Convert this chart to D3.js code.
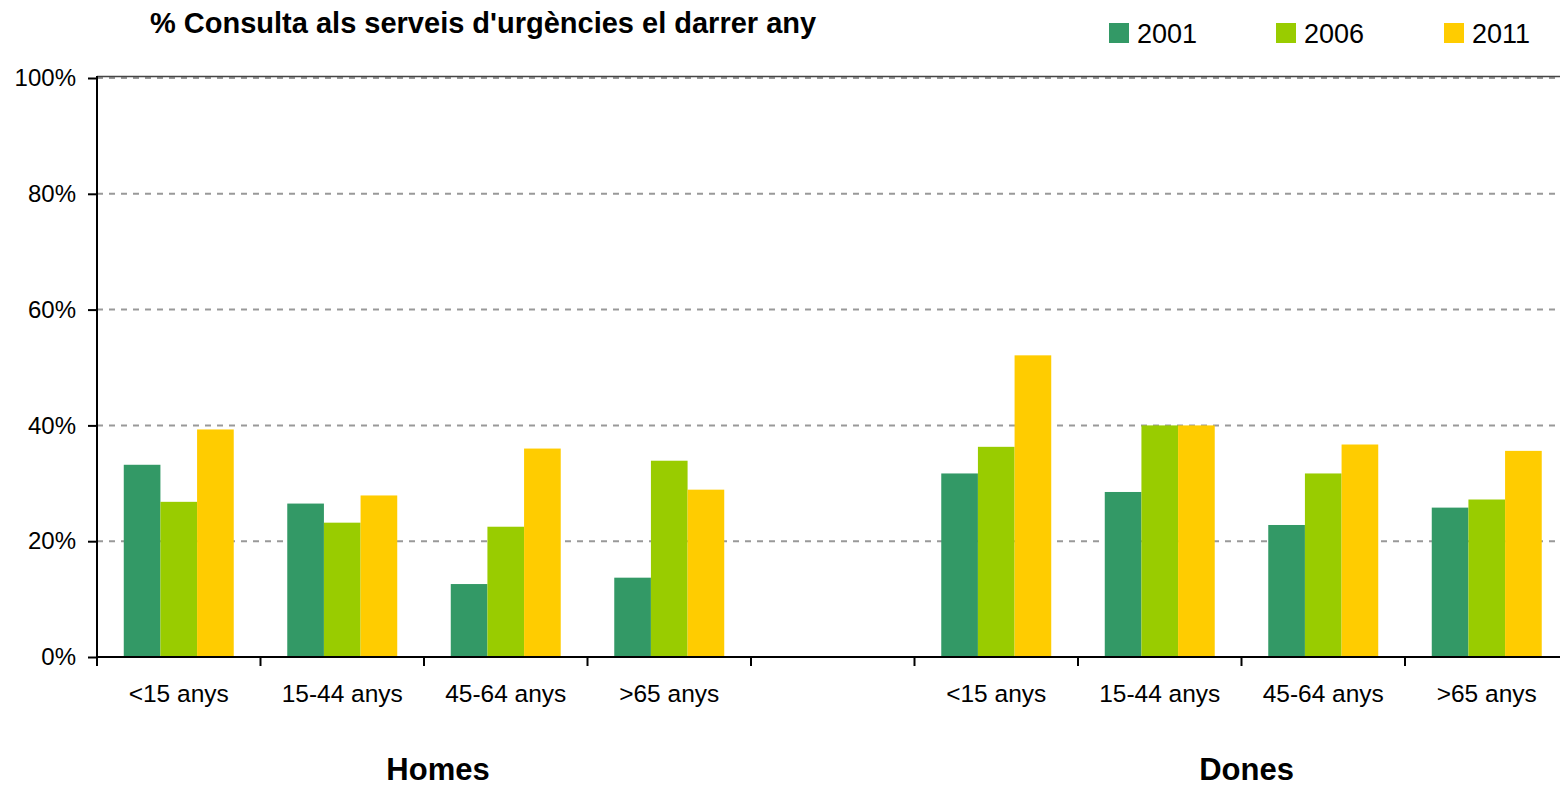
<!DOCTYPE html>
<html>
<head>
<meta charset="utf-8">
<script src="https://cdn.jsdelivr.net/npm/d3@7"></script>
<style>
  html, body { margin: 0; padding: 0; background: #fff; }
  svg { display: block; font-family: "Liberation Sans", Arial, sans-serif; }
</style>
</head>
<body>
<svg id="chart" width="1560" height="786"></svg>
<script>
// ---- data ----
const title = "% Consulta als serveis d'urgències el darrer any";
const categories = ["<15 anys", "15-44 anys", "45-64 anys", ">65 anys", "",
                    "<15 anys", "15-44 anys", "45-64 anys", ">65 anys"];
const groups = ["Homes", "Dones"];
const years = ["2001", "2006", "2011"];
const values2001 = [33.2, 26.5, 12.6, 13.7, null, 31.7, 28.5, 22.8, 25.8];
const values2006 = [26.8, 23.2, 22.5, 33.9, null, 36.3, 40.0, 31.7, 27.2];
const values2011 = [39.3, 27.9, 36.0, 28.9, null, 52.1, 40.0, 36.7, 35.6];
const yTicks = [0, 20, 40, 60, 80, 100];
const colors = ["#339966", "#99CC00", "#FFCC00"];

const series = [values2001, values2006, values2011];

const svg = d3.select("#chart");
const plotLeft = 97, plotTop = 78, plotBottom = 657, plotRight = 1560;
const slot = 163.5;
const ids = categories.map((c, i) => i);

const x0 = d3.scaleBand().domain(ids).range([plotLeft, plotLeft + slot * categories.length]).padding(0);
const x1 = d3.scaleBand().domain(years).range([0, x0.bandwidth()]).paddingInner(0).paddingOuter(0.73);
const y = d3.scaleLinear().domain([0, 100]).range([plotBottom, plotTop]);

// gridlines
svg.append("g").selectAll("line").data(yTicks.filter(d => d > 0)).join("line")
  .attr("x1", plotLeft).attr("x2", plotRight)
  .attr("y1", d => y(d)).attr("y2", d => y(d))
  .attr("stroke", "#999").attr("stroke-width", 2).attr("stroke-dasharray", "6,6");
// top border line
svg.append("line").attr("x1", plotLeft).attr("x2", plotRight).attr("y1", y(100) - 1.5).attr("y2", y(100) - 1.5)
  .attr("stroke", "#444").attr("stroke-width", 1.5);

// bars
series.forEach((vals, si) => {
  svg.append("g").selectAll("rect").data(vals.map((v, i) => ({v, i})).filter(d => d.v != null)).join("rect")
    .attr("x", d => x0(d.i) + x1(years[si]))
    .attr("width", x1.bandwidth())
    .attr("y", d => y(d.v))
    .attr("height", d => y(0) - y(d.v))
    .attr("fill", colors[si]);
});

// y axis
const yAxis = d3.axisLeft(y).tickValues(yTicks).tickSize(9).tickPadding(12).tickFormat(d => d + "%");
const gy = svg.append("g").attr("transform", `translate(${plotLeft},0)`).call(yAxis);
gy.select(".domain").remove();
gy.selectAll(".tick line").attr("stroke", "#000").attr("stroke-width", 2);
gy.selectAll(".tick text").attr("font-size", 24).attr("fill", "#000")
  .attr("font-family", "'Liberation Sans', Arial, sans-serif");
svg.append("line").attr("x1", plotLeft).attr("x2", plotLeft).attr("y1", plotTop - 2).attr("y2", plotBottom + 9)
  .attr("stroke", "#000").attr("stroke-width", 2);

// x axis baseline & ticks
svg.append("line").attr("x1", plotLeft).attr("x2", plotRight).attr("y1", plotBottom).attr("y2", plotBottom)
  .attr("stroke", "#000").attr("stroke-width", 2);
const boundaries = ids.slice(1).map(i => x0(i));
svg.append("g").selectAll("line").data(boundaries).join("line")
  .attr("x1", d => d).attr("x2", d => d).attr("y1", plotBottom).attr("y2", plotBottom + 9)
  .attr("stroke", "#000").attr("stroke-width", 2);

// category labels
svg.append("g").selectAll("text").data(ids.filter(i => categories[i] !== "")).join("text")
  .attr("x", i => x0(i) + x0.bandwidth() / 2)
  .attr("y", 702)
  .attr("text-anchor", "middle")
  .attr("font-size", 24.5)
  .attr("fill", "#000")
  .text(i => categories[i]);

// group labels
const groupX = [x0(2) + 14, x0(7) + 5];
svg.append("g").selectAll("text").data(groups).join("text")
  .attr("x", (d, i) => groupX[i])
  .attr("y", 780)
  .attr("text-anchor", "middle")
  .attr("font-size", 31)
  .attr("font-weight", "bold")
  .attr("fill", "#000")
  .text(d => d);

// title
svg.append("text").attr("x", 150).attr("y", 33)
  .attr("font-size", 29).attr("font-weight", "bold").attr("fill", "#000")
  .text(title);

// legend
const legendX = [1109, 1276, 1444];
const lg = svg.append("g").selectAll("g").data(years).join("g")
  .attr("transform", (d, i) => `translate(${legendX[i]},23)`);
lg.append("rect").attr("width", 20).attr("height", 20).attr("fill", (d, i) => colors[i]);
lg.append("text").attr("x", 28).attr("y", 20).attr("font-size", 27).attr("fill", "#000").text(d => d);
</script>
</body>
</html>
